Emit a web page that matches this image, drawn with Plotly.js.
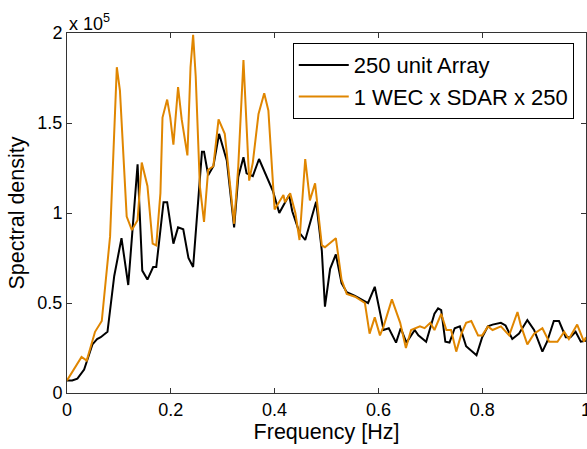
<!DOCTYPE html>
<html>
<head>
<meta charset="utf-8">
<script src="https://cdn.plot.ly/plotly-3.0.1.min.js"></script>
<style>
html,body{margin:0;padding:0;background:#fff;}
#chart{width:587px;height:449px;}
</style>
</head>
<body>
<div id="chart"></div>
<script>
// Frequency [Hz] and spectral density (units of 1e5)
const arrayFreq = [0.000,0.010,0.020,0.033,0.049,0.058,0.065,0.078,0.091,0.105,0.118,0.136,0.145,0.155,0.166,0.172,0.186,0.193,0.205,0.214,0.224,0.234,0.243,0.260,0.264,0.272,0.282,0.293,0.308,0.322,0.330,0.340,0.346,0.358,0.370,0.382,0.397,0.409,0.415,0.428,0.434,0.448,0.459,0.470,0.480,0.491,0.497,0.507,0.518,0.529,0.539,0.555,0.580,0.593,0.610,0.620,0.634,0.643,0.654,0.670,0.677,0.692,0.708,0.715,0.721,0.729,0.737,0.747,0.757,0.769,0.789,0.800,0.811,0.820,0.836,0.845,0.858,0.871,0.887,0.900,0.916,0.925,0.938,0.948,0.961,0.970,0.980,0.990,1.000];
const arrayDensity = [0.07,0.07,0.08,0.13,0.27,0.30,0.31,0.34,0.65,0.86,0.60,1.27,0.68,0.63,0.70,0.70,1.06,1.06,0.83,0.92,0.91,0.75,0.70,1.34,1.34,1.21,1.26,1.44,1.29,0.92,1.20,1.31,1.22,1.205,1.30,1.22,1.12,1.00,1.03,1.10,1.01,0.89,0.85,0.96,1.063,0.79,0.48,0.69,0.77,0.61,0.56,0.54,0.50,0.59,0.35,0.36,0.28,0.36,0.28,0.35,0.32,0.285,0.44,0.47,0.46,0.285,0.28,0.36,0.37,0.26,0.21,0.31,0.37,0.38,0.39,0.375,0.30,0.33,0.405,0.35,0.23,0.285,0.40,0.40,0.31,0.31,0.34,0.285,0.29];

const sdarFreq = [0.000,0.028,0.038,0.054,0.067,0.083,0.096,0.102,0.115,0.125,0.136,0.144,0.155,0.165,0.172,0.180,0.184,0.193,0.199,0.205,0.214,0.221,0.232,0.238,0.243,0.248,0.256,0.264,0.272,0.282,0.292,0.304,0.322,0.330,0.340,0.343,0.351,0.358,0.369,0.380,0.388,0.400,0.404,0.417,0.420,0.430,0.440,0.448,0.459,0.468,0.478,0.491,0.497,0.518,0.529,0.539,0.555,0.574,0.583,0.593,0.603,0.610,0.626,0.642,0.653,0.663,0.680,0.689,0.700,0.708,0.721,0.731,0.740,0.750,0.760,0.769,0.779,0.792,0.800,0.811,0.820,0.836,0.852,0.868,0.874,0.887,0.900,0.916,0.929,0.945,0.958,0.967,0.983,0.996,1.000];
const sdarDensity = [0.07,0.20,0.18,0.34,0.40,0.87,1.81,1.68,0.98,0.905,0.96,1.28,1.15,0.83,0.82,1.11,1.53,1.63,1.53,1.38,1.70,1.52,1.32,1.81,1.99,1.76,1.15,0.95,1.24,1.26,1.52,1.44,0.94,1.26,1.85,1.68,1.18,1.28,1.55,1.665,1.57,1.02,1.04,1.10,1.06,1.11,1.00,0.85,1.30,1.07,1.165,0.82,0.81,0.86,0.63,0.55,0.535,0.50,0.33,0.42,0.32,0.37,0.52,0.39,0.25,0.35,0.37,0.36,0.39,0.35,0.44,0.35,0.35,0.23,0.33,0.39,0.40,0.32,0.32,0.37,0.35,0.37,0.32,0.45,0.38,0.27,0.33,0.36,0.285,0.285,0.34,0.30,0.38,0.285,0.31];

const seriesNames = ["250 unit Array", "1 WEC x SDAR x 250"];
const xTicks = [0, 0.2, 0.4, 0.6, 0.8, 1];
const yTicks = [0, 0.5, 1, 1.5, 2];

const FONT = "Liberation Sans";

const traces = [
  {x: arrayFreq, y: arrayDensity, name: seriesNames[0], type: "scatter", mode: "lines",
   line: {color: "#000000", width: 2}},
  {x: sdarFreq, y: sdarDensity, name: seriesNames[1], type: "scatter", mode: "lines",
   line: {color: "#E08600", width: 2}}
];

const axisCommon = {
  showgrid: false, zeroline: false, showline: true, linecolor: "#333", linewidth: 1,
  mirror: "ticks", ticks: "inside", ticklen: 5, tickcolor: "#333", tickwidth: 1,
  ticklabeloverflow: "allow",
  tickfont: {family: FONT, size: 18, color: "#000"}
};

const layout = {
  width: 587, height: 449,
  margin: {l: 67, r: 1, t: 33, b: 56},
  paper_bgcolor: "#fff", plot_bgcolor: "#fff",
  font: {family: FONT, color: "#000"},
  showlegend: true,
  legend: {x: 0.435, y: 0.972, xanchor: "left", yanchor: "top",
           bgcolor: "#fff", bordercolor: "#000", borderwidth: 1, itemwidth: 50,
           font: {family: FONT, size: 22, color: "#000"}, tracegroupgap: 0},
  xaxis: Object.assign({}, axisCommon, {
    range: [0, 1], tickvals: xTicks, ticktext: xTicks.map(String),
    title: {text: "Frequency [Hz]", font: {family: FONT, size: 21.5}, standoff: 0}
  }),
  yaxis: Object.assign({}, axisCommon, {
    range: [0, 2], tickvals: yTicks, ticktext: yTicks.map(String),
    title: {text: "Spectral density", font: {family: FONT, size: 21.5}, standoff: 6}
  }),
  annotations: [{
    xref: "paper", yref: "paper", x: 0, y: 1, xanchor: "left", yanchor: "bottom",
    text: "x 10<sup>5</sup>", showarrow: false, font: {family: FONT, size: 18, color: "#000"},
    yshift: -3
  }]
};

Plotly.newPlot("chart", traces, layout, {staticPlot: true, displayModeBar: false});
</script>
</body>
</html>
